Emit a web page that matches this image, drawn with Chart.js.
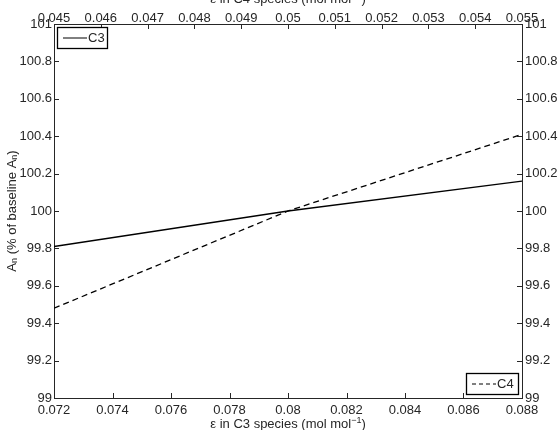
<!DOCTYPE html>
<html><head><meta charset="utf-8">
<script src="https://cdn.jsdelivr.net/npm/chart.js@4.4.0/dist/chart.umd.min.js"></script>
<style>html,body{margin:0;padding:0;background:#fff}#wrap{width:558px;height:430px;position:relative}</style>
</head><body><div id="wrap"><canvas id="c" width="558" height="430"></canvas></div>
<script>
// ---- data ----
const c3Epsilon = [0.072, 0.080, 0.088];
const c3An = [99.81, 100.0, 100.16];
const c4Epsilon = [0.045, 0.050, 0.055];
const c4An = [99.48, 100.0, 100.41];

const bottomTicks = [0.072, 0.074, 0.076, 0.078, 0.080, 0.082, 0.084, 0.086, 0.088];
const bottomTickLabels = ['0.072','0.074','0.076','0.078','0.08','0.082','0.084','0.086','0.088'];
const topTicks = [0.045, 0.046, 0.047, 0.048, 0.049, 0.050, 0.051, 0.052, 0.053, 0.054, 0.055];
const topTickLabels = ['0.045','0.046','0.047','0.048','0.049','0.05','0.051','0.052','0.053','0.054','0.055'];
const yTicks = [99, 99.2, 99.4, 99.6, 99.8, 100, 100.2, 100.4, 100.6, 100.8, 101];
const yTickLabels = ['99','99.2','99.4','99.6','99.8','100','100.2','100.4','100.6','100.8','101'];

const seriesNames = ['C3', 'C4'];
const xTitleBottom = 'ε in C3 species (mol mol';
const xTitleTop = 'ε in C4 species (mol mol';
const FONT = "'Liberation Sans', Arial, Helvetica, sans-serif";
const FS = 13;
const AXIS_COLOR = '#262626';

Chart.defaults.font.family = FONT;
Chart.defaults.font.size = FS;
Chart.defaults.color = '#262626';

function fixedTicks(values) {
  return function(scale) { scale.ticks = values.map(v => ({ value: v })); };
}

function drawSupTitle(ctx, main, cx, cy) {
  const f1 = FS + 'px ' + FONT, f2 = '9px ' + FONT;
  ctx.font = f1; const w1 = ctx.measureText(main).width; const w3 = ctx.measureText(')').width;
  ctx.font = f2; const w2 = ctx.measureText('−1').width;
  let x = cx - (w1 + w2 + w3) / 2;
  ctx.textBaseline = 'middle'; ctx.textAlign = 'left';
  ctx.font = f1; ctx.fillText(main, x, cy); x += w1;
  ctx.font = f2; ctx.fillText('−1', x, cy - 4); x += w2;
  ctx.font = f1; ctx.fillText(')', x, cy);
}

const overlay = {
  id: 'overlay',
  afterDraw(chart) {
    const ctx = chart.ctx;
    const sx = chart.scales.x, sx2 = chart.scales.x2, sy = chart.scales.y;
    const a = chart.chartArea;
    ctx.save();
    // inward tick marks
    ctx.strokeStyle = AXIS_COLOR; ctx.lineWidth = 1;
    ctx.beginPath();
    bottomTicks.forEach(v => { const p = Math.round(sx.getPixelForValue(v)) + 0.5; ctx.moveTo(p, a.bottom); ctx.lineTo(p, a.bottom - 5); });
    topTicks.forEach(v => { const p = Math.round(sx2.getPixelForValue(v)) + 0.5; ctx.moveTo(p, a.top); ctx.lineTo(p, a.top + 5); });
    yTicks.forEach(v => { const p = Math.round(sy.getPixelForValue(v)) + 0.5; ctx.moveTo(a.left, p); ctx.lineTo(a.left + 5, p); ctx.moveTo(a.right, p); ctx.lineTo(a.right - 5, p); });
    ctx.stroke();

    ctx.fillStyle = '#262626';
    const cx = (a.left + a.right) / 2;
    drawSupTitle(ctx, xTitleBottom, cx, 424.5);
    drawSupTitle(ctx, xTitleTop, cx, -1);

    // y title with subscripts
    ctx.save();
    ctx.translate(12, (a.top + a.bottom) / 2);
    ctx.rotate(-Math.PI / 2);
    const parts = [['A', 0, FS], ['n', 3, 9], [' (% of baseline A', 0, FS], ['n', 3, 9], [')', 0, FS]];
    let tw = 0;
    parts.forEach(p => { ctx.font = p[2] + 'px ' + FONT; tw += ctx.measureText(p[0]).width; });
    let x = -tw / 2;
    ctx.textBaseline = 'middle'; ctx.textAlign = 'left';
    parts.forEach(p => { ctx.font = p[2] + 'px ' + FONT; ctx.fillText(p[0], x, p[1]); x += ctx.measureText(p[0]).width; });
    ctx.restore();

    // legends
    ctx.font = FS + 'px ' + FONT; ctx.textBaseline = 'middle'; ctx.textAlign = 'left';
    function legendBox(x0, y0, w, h, name, dash) {
      ctx.fillStyle = '#fff'; ctx.fillRect(x0, y0, w, h);
      ctx.strokeStyle = '#000'; ctx.lineWidth = 1.3; ctx.setLineDash([]);
      ctx.strokeRect(x0 + 0.5, y0 + 0.5, w, h);
      ctx.beginPath(); ctx.setLineDash(dash); ctx.lineWidth = 1;
      ctx.moveTo(x0 + 6, y0 + h / 2 + 0.5); ctx.lineTo(x0 + 30, y0 + h / 2 + 0.5); ctx.stroke();
      ctx.setLineDash([]);
      ctx.fillStyle = '#262626'; ctx.fillText(name, x0 + 31, y0 + h / 2 + 1);
    }
    legendBox(a.left + 3, a.top + 3, 50, 21, seriesNames[0], []);
    legendBox(a.right - 56, a.bottom - 25, 52, 21, seriesNames[1], [4, 3]);
    ctx.restore();
  }
};

new Chart(document.getElementById('c'), {
  type: 'scatter',
  data: {
    datasets: [
      { label: seriesNames[0], data: c3Epsilon.map((v, i) => ({ x: v, y: c3An[i] })), xAxisID: 'x', yAxisID: 'y',
        showLine: true, borderColor: '#000', borderWidth: 1.3, pointRadius: 0, pointHoverRadius: 0, fill: false },
      { label: seriesNames[1], data: c4Epsilon.map((v, i) => ({ x: v, y: c4An[i] })), xAxisID: 'x2', yAxisID: 'y',
        showLine: true, borderColor: '#000', borderWidth: 1.3, borderDash: [6, 4], pointRadius: 0, pointHoverRadius: 0, fill: false }
    ]
  },
  options: {
    responsive: false, animation: false, devicePixelRatio: 1,
    layout: { padding: 0 },
    plugins: { legend: { display: false }, tooltip: { enabled: false } },
    scales: {
      x: { type: 'linear', position: 'bottom', min: 0.072, max: 0.088,
        afterBuildTicks: fixedTicks(bottomTicks), afterFit: s => { s.height = 32; },
        grid: { display: false, drawTicks: false }, border: { display: true, color: AXIS_COLOR, width: 1 },
        ticks: { padding: 5, maxRotation: 0, autoSkip: false, callback: (v, i) => bottomTickLabels[i] } },
      x2: { type: 'linear', position: 'top', min: 0.045, max: 0.055,
        afterBuildTicks: fixedTicks(topTicks), afterFit: s => { s.height = 24; },
        grid: { display: false, drawTicks: false }, border: { display: true, color: AXIS_COLOR, width: 1 },
        ticks: { padding: -2, maxRotation: 0, autoSkip: false, callback: (v, i) => topTickLabels[i] } },
      y: { type: 'linear', position: 'left', min: 99, max: 101,
        afterBuildTicks: fixedTicks(yTicks), afterFit: s => { s.width = 54; },
        grid: { display: false, drawTicks: false }, border: { display: true, color: AXIS_COLOR, width: 1 },
        ticks: { padding: 2, autoSkip: false, callback: (v, i) => yTickLabels[i] } },
      y2: { type: 'linear', position: 'right', min: 99, max: 101,
        afterBuildTicks: fixedTicks(yTicks), afterFit: s => { s.width = 36; },
        grid: { display: false, drawTicks: false }, border: { display: true, color: AXIS_COLOR, width: 1 },
        ticks: { padding: 3, autoSkip: false, callback: (v, i) => yTickLabels[i] } }
    }
  },
  plugins: [overlay]
});
</script>
</body></html>
